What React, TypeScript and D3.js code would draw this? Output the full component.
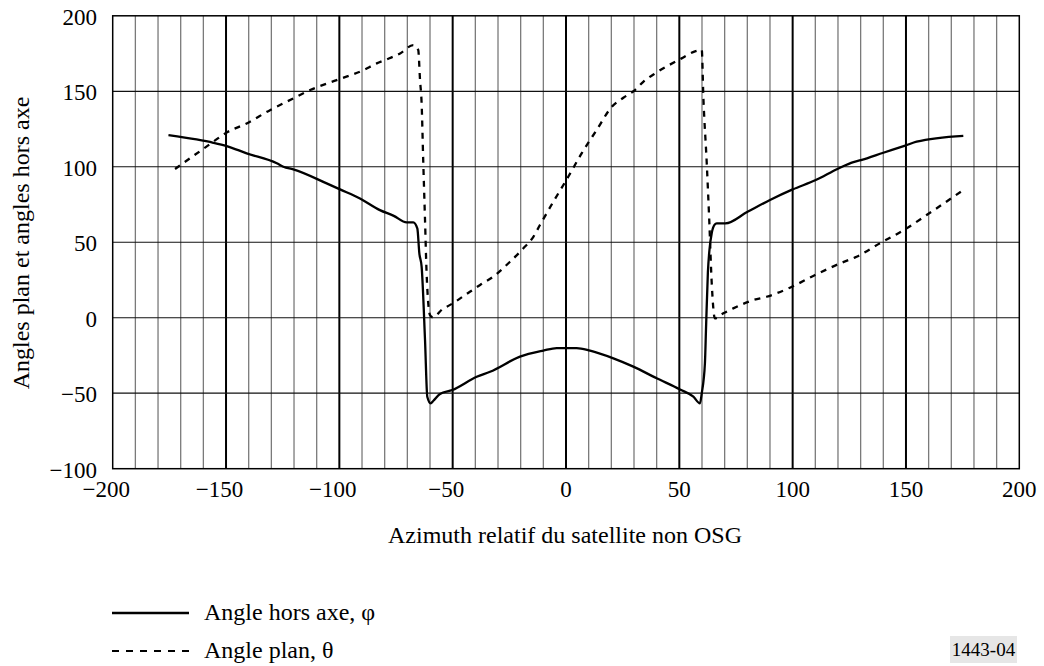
import React from "react";
import * as d3 from "d3";

// Off-axis angle φ (solid)
const phiAzimuth = [-175.4, -163, -155.6, -149.7, -140.9, -127.6, -124.7, -120.3, -105.6, -99.7, -90.9, -82.1, -76, -70.3, -67.4, -65.6, -64.7, -63.7, -62.2, -61.2, -59.7, -58.5, -55.6, -50.2, -39.4, -33.5, -20.3, -10, -4.1, 4.7, 10.6, 20.9, 29.7, 40, 50.3, 56.2, 59.1, 59.9, 61.3, 61.8, 62.6, 63.3, 64.3, 65.5, 66.5, 70.3, 80.1, 90, 100, 110.2, 120.2, 126.8, 130.1, 140, 150, 154.7, 175.3];
const phiValues = [121, 118.1, 115.9, 113.7, 108.9, 102.3, 100, 98.3, 89, 85, 79, 71.3, 67.5, 63.2, 63.2, 59.2, 42.6, 33.8, -14.8, -52.3, -56.7, -55, -50.5, -47.9, -39.1, -35.8, -25.8, -21.8, -20.1, -20.1, -21.8, -26.9, -32.4, -40.1, -47.5, -52.3, -56.7, -50, -30, -6, 30, 45, 56, 61.5, 62.5, 62.5, 70.2, 78, 85, 91.2, 98.9, 103.1, 104.4, 109.3, 114.2, 116.6, 120.5];

// Plane angle θ (dashed)
const thetaAzimuth = [-172.5, -165.9, -155.6, -150.4, -140.9, -130.6, -120.3, -112.9, -101.2, -89.4, -83.5, -79.9, -73.2, -67.4, -65.2, -64.4, -63.7, -63, -62.2, -61.5, -60, -58.7, -54.1, -52.6, -42.4, -37.9, -32.1, -24.7, -18.8, -14.4, -11.5, -5.6, 1, 6.9, 13.5, 20.2, 25.3, 30.4, 34.1, 40, 51, 56.9, 59.9, 60.6, 62.1, 63.2, 64.3, 65.7, 69.4, 73.8, 82.6, 88.5, 98.8, 109.9, 120.9, 128.2, 138.5, 150.3, 159.1, 175.3];
const thetaValues = [98.5, 105.6, 116.6, 122.1, 128.7, 137.5, 145.3, 150.8, 157.4, 164, 168.5, 170.7, 175.1, 180.6, 177.3, 157.4, 142, 104.4, 64.7, 29.4, 1.8, 0.3, 6.2, 7.3, 17.2, 21.7, 27.2, 37.1, 46, 53.6, 61.4, 76.8, 93.4, 108.9, 124.3, 139.7, 145.7, 150.8, 156.3, 162.5, 171.8, 176.4, 177.3, 146.4, 102.3, 64.7, 22.8, -0.4, 2.9, 6.2, 11.7, 13.9, 19.9, 28.3, 36, 40.4, 49.3, 59.2, 68, 84.6];

const xTicks = [-200, -150, -100, -50, 0, 50, 100, 150, 200];
const yTicks = [-100, -50, 0, 50, 100, 150, 200];
const xMinorTicks = d3.range(-190, 200, 10);

const xTitle = "Azimuth relatif du satellite non OSG";
const yTitle = "Angles plan et angles hors axe";
const legendLabels = ["Angle hors axe, φ", "Angle plan, θ"];
const figureId = "1443-04";

const FONT = "'Liberation Serif', 'Times New Roman', serif";
const TICK_FS = 23;
const TITLE_FS = 24;

const fmt = (v: number) => (v < 0 ? "\u2212" + Math.abs(v) : String(v));

export default function App() {
  const x = d3.scaleLinear().domain([-200, 200]).range([112.7, 1019.3]);
  const y = d3.scaleLinear().domain([-100, 200]).range([468.7, 15.8]);

  const phiData = phiAzimuth.map((a, i) => [a, phiValues[i]] as [number, number]);
  const thetaData = thetaAzimuth.map((a, i) => [a, thetaValues[i]] as [number, number]);

  const line = d3
    .line<[number, number]>()
    .x((d) => x(d[0]))
    .y((d) => y(d[1]))
    .curve(d3.curveMonotoneX);

  const [x0, x1] = x.range();
  const [y0, y1] = y.range();

  return (
    <svg
      width={1044}
      height={666}
      style={{ position: "absolute", left: 0, top: 0, background: "#fff", fontFamily: FONT }}
    >
      <rect x={0} y={0} width={1044} height={666} fill="#fff" />
      {/* minor vertical grid */}
      {xMinorTicks
        .filter((t) => t % 50 !== 0)
        .map((t) => (
          <line key={"mv" + t} x1={x(t)} x2={x(t)} y1={y1} y2={y0} stroke="#7a7a7a" strokeWidth={1.3} />
        ))}
      {/* major vertical grid */}
      {xTicks
        .filter((t) => t > -200 && t < 200)
        .map((t) => (
          <line key={"Mv" + t} x1={x(t)} x2={x(t)} y1={y1} y2={y0} stroke="#000" strokeWidth={2} />
        ))}
      {/* horizontal grid */}
      {yTicks
        .filter((t) => t > -100 && t < 200)
        .map((t) => (
          <line key={"h" + t} x1={x0} x2={x1} y1={y(t)} y2={y(t)} stroke="#111" strokeWidth={1.2} />
        ))}
      {/* frame */}
      <rect x={x0} y={y1} width={x1 - x0} height={y0 - y1} fill="none" stroke="#000" strokeWidth={1.5} />

      {/* series */}
      <path d={line(thetaData) || ""} fill="none" stroke="#000" strokeWidth={2.3} strokeDasharray="6,6" />
      <path d={line(phiData) || ""} fill="none" stroke="#000" strokeWidth={2.3} strokeLinejoin="round" />

      {/* y tick labels */}
      {yTicks.map((t) => (
        <text key={"yl" + t} x={97} y={y(t)} dy="0.4em" textAnchor="end" fontSize={TICK_FS} fill="#000">
          {fmt(t)}
        </text>
      ))}
      {/* x tick labels */}
      {xTicks.map((t) => {
        const digits = String(Math.abs(t)).length;
        const half = (digits * 0.5 * TICK_FS) / 2;
        return t < 0 ? (
          <text key={"xl" + t} x={x(t) + half} y={497} textAnchor="end" fontSize={TICK_FS} fill="#000">
            {fmt(t)}
          </text>
        ) : (
          <text key={"xl" + t} x={x(t)} y={497} textAnchor="middle" fontSize={TICK_FS} fill="#000">
            {fmt(t)}
          </text>
        );
      })}

      {/* axis titles */}
      <text x={565} y={543} textAnchor="middle" fontSize={TITLE_FS} fill="#000">
        {xTitle}
      </text>
      <text
        transform={`translate(29, 243) rotate(-90)`}
        textAnchor="middle"
        fontSize={TITLE_FS}
        fill="#000"
      >
        {yTitle}
      </text>

      {/* legend */}
      <line x1={112} x2={189} y1={613} y2={613} stroke="#000" strokeWidth={2.3} />
      <text x={204} y={620} fontSize={TITLE_FS} fill="#000">
        {legendLabels[0]}
      </text>
      <line x1={112} x2={189} y1={651} y2={651} stroke="#000" strokeWidth={2} strokeDasharray="7,7" />
      <text x={204} y={658} fontSize={TITLE_FS} fill="#000">
        {legendLabels[1]}
      </text>

      {/* figure id */}
      <rect x={950} y={636} width={67} height={27} fill="#e6e6e6" />
      <text x={983.5} y={656} textAnchor="middle" fontSize={19} fill="#000">
        {figureId}
      </text>
    </svg>
  );
}
